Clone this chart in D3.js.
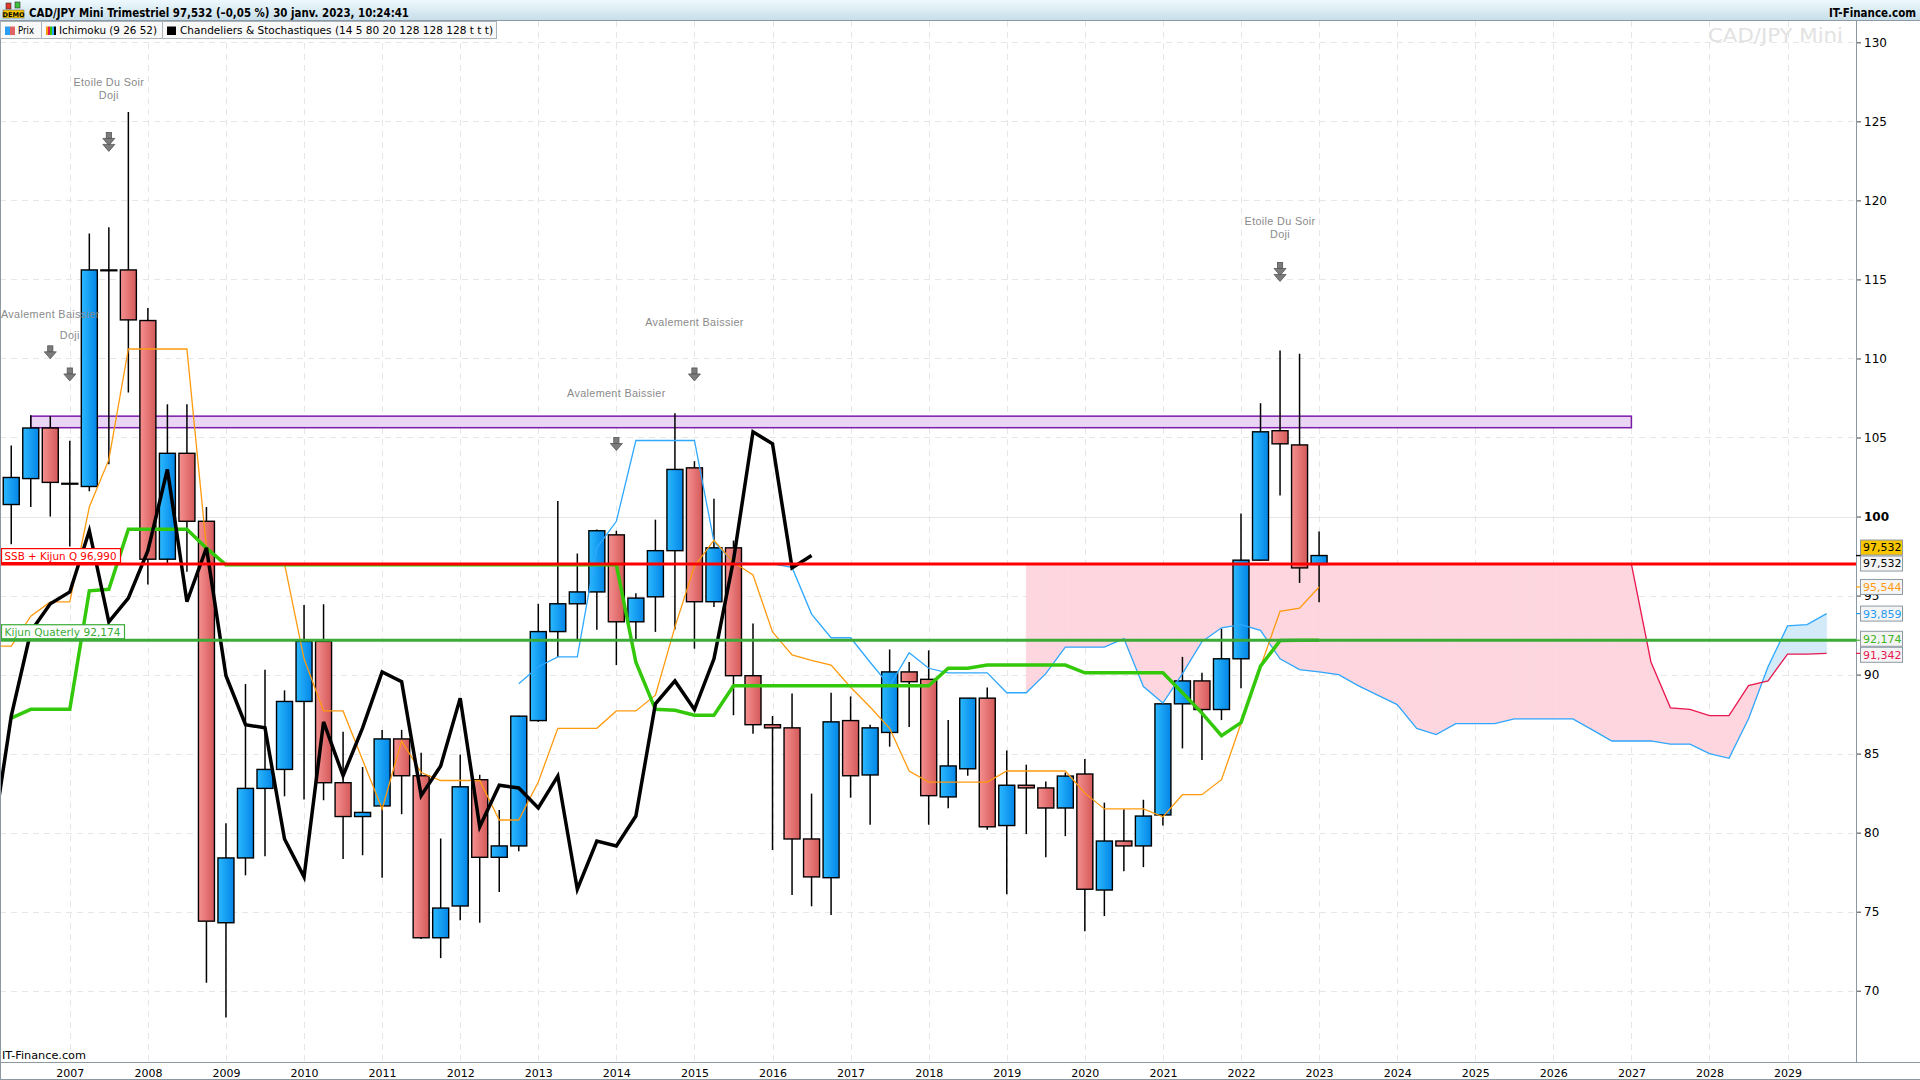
<!DOCTYPE html>
<html>
<head>
<meta charset="utf-8">
<script src="https://cdn.jsdelivr.net/npm/d3@7"></script>
<style>
  html, body { margin: 0; padding: 0; background: #fff; }
  svg { display: block; font-family: 'DejaVu Sans', sans-serif; }
</style>
</head>
<body>
<svg id="chart" width="1920" height="1080"></svg>
<script>
// Quarterly candles, first one is 2006 T2
const firstCandle = [2006, 2];
const open = [100.76, 102.4, 105.6, 102.1, 101.9, 115.6, 115.6, 112.4, 97.3, 104.0, 99.7, 74.3, 78.4, 82.8, 84.0, 88.3,
  92.1, 83.16, 81.02, 81.69, 85.93, 83.6, 73.35, 75.36, 83.35, 78.44, 79.16, 87.09, 92.72, 94.48, 95.23, 98.84,
  93.34, 94.92, 97.84, 103.08, 94.61, 98.02, 89.93, 86.83, 86.63, 79.6, 77.15, 87.09, 83.65, 86.34, 90.17, 89.7,
  82.26, 84.04, 88.51, 80.45, 83.0, 82.83, 81.56, 83.71, 76.37, 79.47, 79.16, 81.12, 88.15, 89.6, 87.79, 91.0,
  97.24, 105.43, 104.53, 96.97];
const high = [104.5, 106.4, 106.35, 104.8, 117.9, 118.3, 125.6, 113.2, 107.1, 107.1, 100.6, 80.6, 89.4, 90.3, 89.0, 94.4,
  94.45, 86.39, 84.15, 86.5, 86.5, 85.05, 79.63, 84.95, 83.66, 81.43, 87.4, 94.48, 100.99, 97.66, 99.18, 99.1,
  95.15, 99.8, 106.54, 103.5, 101.12, 98.48, 93.24, 87.38, 88.8, 82.47, 88.85, 88.62, 86.83, 91.59, 90.79, 91.53,
  87.12, 88.51, 89.18, 85.2, 84.3, 83.24, 83.8, 84.66, 81.9, 81.48, 82.08, 88.2, 91.12, 90.11, 92.9, 100.19,
  107.17, 110.5, 110.3, 99.05];
const low = [98.25, 100.6, 100.0, 98.1, 101.6, 103.3, 107.85, 95.7, 97.0, 96.5, 70.5, 68.3, 77.3, 78.5, 82.3, 82.1,
  82.05, 78.33, 78.57, 77.15, 81.17, 73.27, 72.06, 74.46, 74.3, 76.24, 78.83, 87.01, 91.12, 92.18, 92.83, 90.6,
  92.18, 92.7, 92.85, 91.64, 94.27, 87.43, 86.26, 78.9, 76.06, 75.34, 74.79, 82.21, 80.5, 85.44, 86.68, 80.5,
  81.54, 83.6, 80.19, 76.11, 79.91, 78.44, 79.78, 73.76, 74.72, 77.56, 77.82, 80.45, 85.33, 84.59, 87.12, 89.13,
  97.2, 101.33, 95.8, 94.58];
const close = [102.47, 105.6, 102.16, 102.1, 115.6, 115.6, 112.44, 97.3, 104.0, 99.7, 74.4, 78.4, 82.8, 84.0, 88.3, 92.1,
  83.16, 81.02, 81.28, 85.93, 83.6, 73.35, 75.23, 82.9, 78.44, 79.16, 87.37, 92.72, 94.48, 95.23, 99.1, 93.34,
  94.84, 97.84, 102.98, 94.61, 98.02, 89.93, 86.83, 86.63, 79.6, 77.2, 87.01, 83.6, 86.63, 90.17, 89.55, 82.34,
  84.22, 88.51, 80.37, 83.0, 82.83, 81.56, 83.58, 76.42, 79.47, 79.16, 81.05, 88.15, 89.6, 87.79, 91.0, 97.24,
  105.36, 104.6, 96.75, 97.532];

// Ichimoku (9 26 52)
const tenkanStart = [2006, 1];
const tenkan = [91.8, 91.8, 93.7, 94.6, 94.6, 100.6, 103.6, 110.6, 110.6, 110.6, 110.6, 98.0, 97.0, 97.0, 97.0, 97.0,
  91.0, 87.7, 87.7, 84.6, 81.5, 85.8, 83.8, 83.3, 83.3, 83.3, 80.8, 80.8, 83.2, 86.6, 86.6, 86.6,
  87.7, 87.7, 88.7, 93.0, 96.85, 98.5, 97.1, 96.3, 92.7, 91.25, 90.9, 90.6, 89.2, 87.95, 86.6, 83.9,
  83.2, 83.2, 83.2, 83.2, 83.9, 83.9, 83.9, 83.9, 82.5, 81.5, 81.5, 81.5, 81.0, 82.4, 82.4, 83.35,
  86.9, 90.5, 94.0, 94.2, 95.544];
const kijunStart = [2006, 2];
const kijun = [87.25, 87.8, 87.8, 87.8, 95.3, 95.4, 99.2, 99.2, 99.2, 99.2, 98.0,
  96.95, 96.95, 96.95, 96.95, 96.95, 96.95, 96.95, 96.95, 96.95, 96.95, 96.95, 96.95, 96.95, 96.95, 96.95, 96.95,
  96.95, 96.95, 96.95, 96.95, 96.95, 90.78, 87.8, 87.74, 87.43, 87.43,
  89.29, 89.29, 89.29, 89.29, 89.29, 89.29, 89.29, 89.29, 89.29, 89.29, 89.29, 90.4, 90.4,
  90.6, 90.6, 90.6, 90.6, 90.6, 90.11, 90.11, 90.11, 90.11, 90.11,
  88.85, 87.56, 86.14, 86.96, 90.53, 92.15, 92.174, 92.174];
const ssaStart = [2012, 4];
const ssa = [89.42, 90.5, 91.12, 91.12, 98.02, 99.7, 104.81, 104.81, 104.81, 104.81, 98.41, 97.1, 97.0, 97.0, 96.78, 93.83,
  92.33, 92.33, 90.78, 89.29, 91.38, 90.4, 90.11, 90.11, 90.11, 88.85, 88.85, 90.06, 91.74, 91.74, 91.74, 92.28,
  89.24, 88.2, 90.06, 92.08, 92.96, 93.16, 92.8, 91.0, 90.32, 90.17, 90.0, 89.3, 88.7, 88.1, 86.6, 86.2,
  86.9, 86.9, 86.9, 87.2, 87.2, 87.2, 87.2, 86.5, 85.8, 85.8, 85.8, 85.6, 85.6, 85.0, 84.7, 87.2,
  90.5, 93.08, 93.16, 93.859];
const ssbStart = [2019, 2];
const ssb = [96.99, 96.99, 96.99, 96.99, 96.99, 96.99, 96.99, 96.99, 96.99, 96.99, 96.99, 96.99, 96.99, 96.99, 96.99, 96.99,
  96.99, 96.99, 96.99, 96.99, 96.99, 96.99, 96.99, 96.99, 96.99, 96.99, 96.99, 96.99, 96.99, 96.99, 96.99, 96.99,
  90.8, 87.9, 87.8, 87.4, 87.4, 89.3, 89.6, 91.3, 91.3, 91.342];
const chikouShift = 26;

// horizontal levels and the resistance zone
const levelNames = ['SSB + Kijun Q', 'Kijun Quaterly'];
const levelValues = [96.99, 92.174];
const zoneFrom = [2006, 3], zoneTo = [2027, 1];
const zoneRange = [105.62, 106.35];

// candle pattern notes
const patternAt = [[2006, 4], [2007, 1], [2007, 3], [2014, 1], [2015, 1], [2022, 3]];
const patternText = [['Avalement Baissier'], ['Doji'], ['Etoile Du Soir', 'Doji'], ['Avalement Baissier'],
  ['Avalement Baissier'], ['Etoile Du Soir', 'Doji']];
const patternTextLevel = [112.8, 111.5, 127.47, 107.8, 112.3, 118.67];
const patternArrowLevel = [110.42, 109.02, 123.67, 104.62, 109.02, 115.44];

const years = d3.range(2007, 2030);
const priceTicks = d3.range(70, 131, 5);

const W = 1920, H = 1080;
const plot = {left: 0, right: 1856, top: 21, bottom: 1062};
const qi = (yq) => (yq[0] - 2007) * 4 + (yq[1] - 1);
const fmt3 = d3.formatLocale({decimal: ',', thousands: '\u00a0', grouping: [3], currency: ['', '']}).format('.3f');

const x = d3.scaleLinear().domain([-3.576, 91.506]).range([plot.left, plot.right]);
const y = d3.scaleLinear().domain([65.49, 131.35]).range([plot.bottom, plot.top]);

const svg = d3.select('#chart');
const defs = svg.append('defs');
[['up', '#2bb9ff', '#0385e6'], ['down', '#f69090', '#d45959']].forEach(([id, a, b]) => {
  const g = defs.append('linearGradient').attr('id', 'grad-' + id);
  g.append('stop').attr('offset', '0%').attr('stop-color', a);
  g.append('stop').attr('offset', '100%').attr('stop-color', b);
});
const hg = defs.append('linearGradient').attr('id', 'grad-head').attr('x1', 0).attr('x2', 0).attr('y1', 0).attr('y2', 1);
hg.append('stop').attr('offset', '0%').attr('stop-color', '#eef9fe');
hg.append('stop').attr('offset', '100%').attr('stop-color', '#c6dde8');
defs.append('clipPath').attr('id', 'plot-clip').append('rect')
  .attr('x', plot.left).attr('y', plot.top)
  .attr('width', plot.right - plot.left).attr('height', plot.bottom - plot.top);

const series = (start, values) => values.map((v, k) => [qi(start) + k, v]);
const candles = open.map((o, k) => ({i: qi(firstCandle) + k, o, h: high[k], l: low[k], c: close[k]}));
const tenkanPts = series(tenkanStart, tenkan);
const kijunPts = series(kijunStart, kijun);
const ssaPts = series(ssaStart, ssa);
const ssbPts = series(ssbStart, ssb);
const chikouPts = close.map((c, k) => [qi(firstCandle) + k - chikouShift, c]);

const g = svg.append('g').attr('clip-path', 'url(#plot-clip)');

// grid
g.append('g').selectAll('line').data(priceTicks).join('line')
  .attr('x1', plot.left).attr('x2', plot.right)
  .attr('y1', d => Math.round(y(d)) + 0.5).attr('y2', d => Math.round(y(d)) + 0.5)
  .attr('stroke', '#e6e6e6').attr('stroke-width', 1)
  .attr('stroke-dasharray', d => d === 100 ? null : '6,5');
g.append('g').selectAll('line').data(years).join('line')
  .attr('x1', d => Math.round(x(qi([d, 1]))) + 0.5).attr('x2', d => Math.round(x(qi([d, 1]))) + 0.5)
  .attr('y1', plot.top).attr('y2', plot.bottom)
  .attr('stroke', '#e6e6e6').attr('stroke-dasharray', '6,5');

// kumo
const ssaAt = new Map(ssaPts);
const kumo = ssbPts.map(([i, b]) => ({i, a: ssaAt.get(i), b}));
const polys = [];
for (let k = 0; k < kumo.length - 1; k++) {
  const p = kumo[k], n = kumo[k + 1];
  const d0 = p.b - p.a, d1 = n.b - n.a;
  if (d0 * d1 >= 0) {
    polys.push({bear: d0 + d1 > 0, pts: [[p.i, p.a], [n.i, n.a], [n.i, n.b], [p.i, p.b]]});
  } else {
    const t = d0 / (d0 - d1), xi = p.i + t, yi = p.a + t * (n.a - p.a);
    polys.push({bear: d0 > 0, pts: [[p.i, p.a], [xi, yi], [p.i, p.b]]});
    polys.push({bear: d1 > 0, pts: [[xi, yi], [n.i, n.a], [n.i, n.b]]});
  }
}
g.append('g').selectAll('path').data(polys).join('path')
  .attr('d', d => 'M' + d.pts.map(p => [x(p[0]), y(p[1])].join(',')).join('L') + 'Z')
  .attr('fill', d => d.bear ? '#fdd6df' : '#d3ebf9')
  .attr('stroke', d => d.bear ? '#fdd6df' : '#d3ebf9').attr('stroke-width', 0.8);

// resistance zone
g.append('rect')
  .attr('x', x(qi(zoneFrom))).attr('y', y(zoneRange[1]))
  .attr('width', x(qi(zoneTo)) - x(qi(zoneFrom))).attr('height', y(zoneRange[0]) - y(zoneRange[1]))
  .attr('fill', '#ead6f4').attr('stroke', '#7a1aa6').attr('stroke-width', 1.5);

// candles
const bodyW = 16;
const cg = g.append('g');
cg.selectAll('line').data(candles).join('line')
  .attr('x1', d => x(d.i)).attr('x2', d => x(d.i))
  .attr('y1', d => y(d.h)).attr('y2', d => y(d.l))
  .attr('stroke', '#000').attr('stroke-width', 1.5);
cg.selectAll('rect').data(candles).join('rect')
  .attr('x', d => x(d.i) - bodyW / 2).attr('width', bodyW)
  .attr('y', d => y(Math.max(d.o, d.c)))
  .attr('height', d => Math.max(0.8, Math.abs(y(d.o) - y(d.c))))
  .attr('fill', d => d.c > d.o ? 'url(#grad-up)' : (d.c < d.o ? 'url(#grad-down)' : '#000'))
  .attr('stroke', '#000').attr('stroke-width', 1.4);

// ichimoku lines
const line = d3.line().x(d => x(d[0])).y(d => y(d[1]));
g.append('path').attr('d', line(ssaPts)).attr('fill', 'none').attr('stroke', '#2ea8ff').attr('stroke-width', 1.3);
g.append('path').attr('d', line(ssbPts)).attr('fill', 'none').attr('stroke', '#e8194f').attr('stroke-width', 1.3);
g.append('path').attr('d', line(tenkanPts)).attr('fill', 'none').attr('stroke', '#ff9a0e').attr('stroke-width', 1.3);
g.append('path').attr('d', line(kijunPts)).attr('fill', 'none').attr('stroke', '#33c80a').attr('stroke-width', 3.5);
g.append('path').attr('d', line(chikouPts)).attr('fill', 'none').attr('stroke', '#000').attr('stroke-width', 3.5);

// levels
const levelColors = ['#ff0000', '#3aab36'];
const levelTextW = [112, 116];
levelValues.forEach((v, k) => {
  const ly = y(v);
  g.append('line').attr('x1', plot.left).attr('x2', plot.right).attr('y1', ly).attr('y2', ly)
    .attr('stroke', levelColors[k]).attr('stroke-width', 3);
  const lbl = g.append('g');
  lbl.append('rect').attr('x', 1.5).attr('y', ly - 15.5).attr('height', 14).attr('width', levelTextW[k] + 7)
    .attr('fill', '#fff').attr('stroke', levelColors[k]).attr('stroke-width', 1.2);
  lbl.append('text').attr('x', 4.5).attr('y', ly - 4.5)
    .attr('fill', levelColors[k]).attr('font-size', 11)
    .attr('textLength', levelTextW[k]).attr('lengthAdjust', 'spacingAndGlyphs')
    .text(`${levelNames[k]} ${fmt3(v)}`);
});

// pattern notes
patternAt.forEach((yq, k) => {
  const px = x(qi(yq));
  patternText[k].forEach((s, j) => {
    g.append('text').attr('x', px).attr('y', y(patternTextLevel[k]) + j * 12.5)
      .attr('dy', '0.35em').attr('text-anchor', 'middle')
      .attr('font-family', "'Liberation Sans', sans-serif").attr('font-size', 10.8)
      .attr('letter-spacing', 0.35).attr('fill', '#8a8a8a').text(s);
  });
  const ay = y(patternArrowLevel[k]);
  const heads = patternText[k].length > 1 ? [0, 6] : [0];
  const top = ay - (heads.length > 1 ? 10 : 6);
  const ag = g.append('g').attr('fill', '#7b7b7b').attr('stroke', '#555').attr('stroke-width', 0.8);
  ag.append('rect').attr('x', px - 2.6).attr('y', top).attr('width', 5.2).attr('height', 6);
  heads.forEach(o => {
    ag.append('path').attr('d', `M${px - 6},${top + 6 + o}L${px + 6},${top + 6 + o}L${px},${top + 13 + o}Z`);
  });
});

// axes
const yAxis = svg.append('g').attr('transform', `translate(${plot.right},0)`)
  .call(d3.axisRight(y).tickValues(priceTicks).tickSize(5).tickPadding(3).tickFormat(d3.format('d')));
yAxis.select('.domain').remove();
yAxis.selectAll('line').attr('stroke', '#444');
yAxis.selectAll('text').attr('font-size', 12).attr('fill', '#000')
  .attr('font-family', "'DejaVu Sans', sans-serif")
  .attr('font-weight', d => d === 100 ? 'bold' : null);
svg.append('line').attr('x1', plot.right + 0.5).attr('x2', plot.right + 0.5)
  .attr('y1', plot.top).attr('y2', plot.bottom).attr('stroke', '#8c99a2');

const xAxis = svg.append('g').attr('transform', `translate(0,${plot.bottom})`)
  .call(d3.axisBottom(x).tickValues(years.map(d => qi([d, 1]))).tickSize(0).tickPadding(7)
    .tickFormat((d, k) => years[k]));
xAxis.select('.domain').remove();
xAxis.selectAll('text').attr('font-size', 11).attr('fill', '#000').attr('font-family', "'DejaVu Sans', sans-serif");
svg.append('line').attr('x1', 0).attr('x2', W).attr('y1', plot.bottom + 0.5).attr('y2', plot.bottom + 0.5)
  .attr('stroke', '#8c99a2');
svg.append('line').attr('x1', 0).attr('x2', W).attr('y1', H - 0.5).attr('y2', H - 0.5).attr('stroke', '#8c99a2');
svg.append('line').attr('x1', 0.5).attr('x2', 0.5).attr('y1', plot.top).attr('y2', H).attr('stroke', '#8c99a2');

// price tags on the right axis
const last = a => a[a.length - 1];
const tags = [
  {v: last(close), fg: '#000', bg: '#f7c600'},
  {v: last(close), fg: '#000', bg: '#f4f4f4'},
  {v: last(tenkan), fg: '#ff9a0e', bg: '#f4f4f4'},
  {v: last(ssa), fg: '#1f9cf0', bg: '#f4f4f4'},
  {v: last(kijun), fg: '#3cb521', bg: '#f4f4f4'},
  {v: last(ssb), fg: '#e8194f', bg: '#f4f4f4'}
];
tags.forEach(t => { t.y = y(t.v); t.ty = t.y; });
for (let it = 0; it < 60; it++) {
  for (let k = 0; k < tags.length - 1; k++) {
    const gap = tags[k + 1].ty - tags[k].ty;
    if (gap < 16) {
      const push = (16 - gap) / 2;
      tags[k].ty -= push; tags[k + 1].ty += push;
    }
  }
}
const tg = svg.append('g');
tags.forEach(t => {
  tg.append('line').attr('x1', plot.right).attr('x2', plot.right + 5).attr('y1', t.y).attr('y2', t.y)
    .attr('stroke', t.fg).attr('stroke-width', 1.2);
  tg.append('rect').attr('x', plot.right + 4.5).attr('y', t.ty - 7.5).attr('width', 42).attr('height', 15)
    .attr('fill', t.bg).attr('stroke', '#8d99a3').attr('stroke-width', 1);
  tg.append('text').attr('x', plot.right + 7).attr('y', t.ty).attr('dy', '0.36em')
    .attr('font-size', 11).attr('fill', t.fg).text(fmt3(t.v));
});

// watermark and footer
svg.append('text').attr('x', 1843).attr('y', 42).attr('text-anchor', 'end')
  .attr('font-size', 19).attr('fill', '#e2e2e2').attr('textLength', 135).attr('lengthAdjust', 'spacingAndGlyphs')
  .text('CAD/JPY Mini');
svg.append('text').attr('x', 2).attr('y', 1059).attr('font-size', 11).attr('fill', '#000')
  .attr('textLength', 84).attr('lengthAdjust', 'spacingAndGlyphs').text('IT-Finance.com');

// title bar
svg.append('rect').attr('x', 0).attr('y', 0).attr('width', W).attr('height', plot.top).attr('fill', 'url(#grad-head)');
svg.append('line').attr('x1', 0).attr('x2', W).attr('y1', plot.top - 0.5).attr('y2', plot.top - 0.5).attr('stroke', '#8b9aa4');
svg.append('rect').attr('x', 6).attr('y', 3).attr('width', 5).attr('height', 6).attr('fill', '#e23a2a').attr('stroke', '#333').attr('stroke-width', 0.6);
svg.append('rect').attr('x', 15).attr('y', 2).attr('width', 5).attr('height', 6).attr('fill', '#3cc23a').attr('stroke', '#333').attr('stroke-width', 0.6);
svg.append('rect').attr('x', 3).attr('y', 10).attr('width', 21).attr('height', 8).attr('fill', '#f5c400').attr('stroke', '#555').attr('stroke-width', 0.5);
svg.append('text').attr('x', 13.5).attr('y', 16.8).attr('text-anchor', 'middle').attr('font-size', 6.5)
  .attr('font-weight', 'bold').attr('fill', '#000').text('DEMO');
svg.append('text').attr('x', 29).attr('y', 16.5).attr('font-size', 12.5).attr('font-weight', 'bold')
  .attr('textLength', 380).attr('lengthAdjust', 'spacingAndGlyphs')
  .text('CAD/JPY Mini Trimestriel 97,532 (–0,05 %) 30 janv. 2023, 10:24:41');
svg.append('text').attr('x', 1916).attr('y', 16.5).attr('text-anchor', 'end').attr('font-size', 12.5)
  .attr('font-weight', 'bold').attr('textLength', 87).attr('lengthAdjust', 'spacingAndGlyphs').text('IT-Finance.com');

// legend row
const legendItems = ['Prix', 'Ichimoku (9 26 52)', 'Chandeliers & Stochastiques (14 5 80 20 128 128 128 t t t)'];
const legendX = [0, 41, 162, 497];
const legendTextW = [16, 98, 313];
const lg = svg.append('g');
lg.append('rect').attr('x', 0.5).attr('y', plot.top + 0.5).attr('width', 496).attr('height', 17)
  .attr('fill', '#f9f9f9').attr('stroke', '#aab3b9');
legendX.slice(1, 3).forEach(lx => lg.append('line').attr('x1', lx + 0.5).attr('x2', lx + 0.5)
  .attr('y1', plot.top).attr('y2', plot.top + 18).attr('stroke', '#aab3b9'));
lg.append('rect').attr('x', 5).attr('y', 26.5).attr('width', 5).attr('height', 8.5).attr('fill', '#2a9df4');
lg.append('rect').attr('x', 10).attr('y', 26.5).attr('width', 5).attr('height', 8.5).attr('fill', '#e06464');
['#ff9a0e', '#e8194f', '#33c80a', '#2ea8ff', '#000'].forEach((c, k) =>
  lg.append('rect').attr('x', 46 + k * 2).attr('y', 26.5).attr('width', 2).attr('height', 8.5).attr('fill', c));
lg.append('rect').attr('x', 167).attr('y', 26.5).attr('width', 9).attr('height', 8.5).attr('fill', '#000');
legendItems.forEach((s, k) => {
  lg.append('text').attr('x', legendX[k] + 18).attr('y', 34.3).attr('font-size', 11)
    .attr('textLength', legendTextW[k]).attr('lengthAdjust', 'spacingAndGlyphs').attr('fill', '#000').text(s);
});
</script>
</body>
</html>
